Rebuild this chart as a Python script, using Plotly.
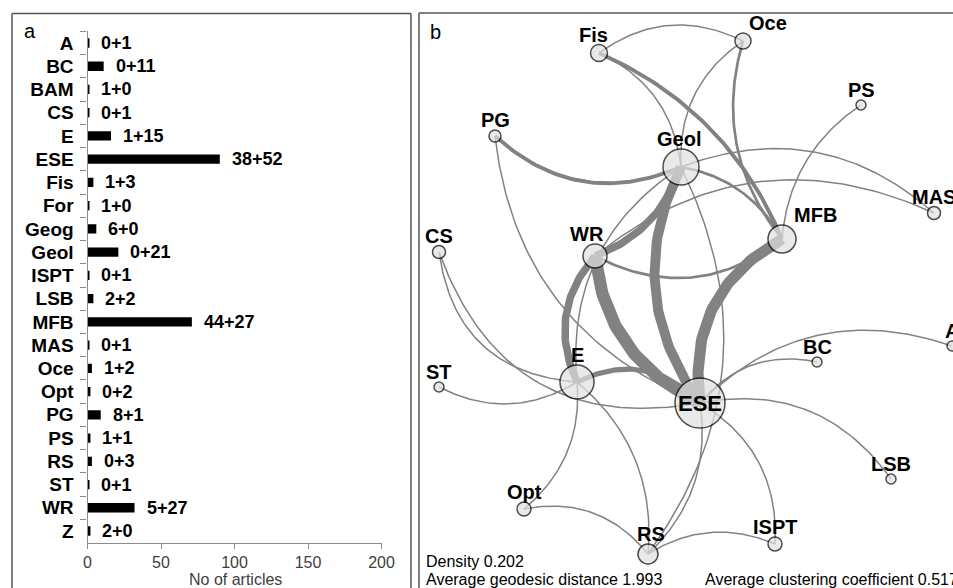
import numpy as np
import plotly.graph_objects as go

W, H = 953, 588

# ---------------- Panel a data ----------------
categories = ["A", "BC", "BAM", "CS", "E", "ESE", "Fis", "For", "Geog", "Geol", "ISPT",
              "LSB", "MFB", "MAS", "Oce", "Opt", "PG", "PS", "RS", "ST", "WR", "Z"]
count_first = [0, 0, 1, 0, 1, 38, 1, 1, 6, 0, 0, 2, 44, 0, 1, 0, 8, 1, 0, 0, 5, 2]
count_second = [1, 11, 0, 1, 15, 52, 3, 0, 0, 21, 1, 2, 27, 1, 2, 2, 1, 1, 3, 1, 27, 0]
x_ticks = [0, 50, 100, 150, 200]

# ---------------- Panel b data ----------------
node_names = ["Fis", "Oce", "PS", "PG", "Geol", "MAS", "MFB", "CS", "WR", "A", "BC",
              "ST", "E", "ESE", "LSB", "Opt", "ISPT", "RS"]
node_x = [599, 743, 861, 495, 681, 934, 782, 439, 595, 952, 817, 439, 577, 700, 891, 524, 775, 648]
node_y = [53, 41, 105, 136, 167, 213, 239, 252, 256, 346, 362, 387, 382, 403, 479, 509, 544, 554]
node_value = [17, 16, 10, 12, 36, 13, 28, 13, 24, 10, 10, 10, 34, 50, 10, 14, 14, 20]

edge_source = ["Fis", "Fis", "Fis", "Oce", "Oce", "PS", "PG", "PG", "Geol", "WR", "Geol",
               "Geol", "Geol", "Geol", "WR", "WR", "WR", "MFB", "E", "CS", "CS", "ST",
               "ESE", "ESE", "ESE", "ESE", "ESE", "RS", "Opt", "Opt", "E", "Geol"]
edge_target = ["Oce", "Geol", "MFB", "Geol", "MFB", "MFB", "Geol", "ESE", "MAS", "MAS", "MFB",
               "WR", "ESE", "E", "MFB", "E", "ESE", "ESE", "ESE", "E", "ESE", "E",
               "A", "BC", "LSB", "ISPT", "RS", "ISPT", "RS", "E", "RS", "RS"]
edge_weight = [1, 1, 3, 1, 2, 1, 3, 1, 1, 1, 2,
               6, 8, 1, 2, 6, 10, 9, 4, 1, 1, 1,
               1, 1, 1, 1, 1, 1, 1, 1, 1, 1]

stats_lines = ["Density 0.202", "Average geodesic distance 1.993",
               "Average clustering coefficient 0.517"]

# ---------------- styles ----------------
edge_bend = [-0.15, -0.14, -0.10, 0.14, 0.13, 0.12, 0.16, 0.15, -0.15, -0.155, -0.12,
             -0.12, 0.15, 0.15, 0.16, 0.16, 0.14, 0.17, -0.18, 0.2, 0.21, 0.14,
             -0.155, -0.15, -0.16, -0.15, -0.13, -0.13, -0.15, 0.13, -0.13, -0.15]
label_pos = {"Oce": "top right", "MFB": "top right", "ESE": "middle center"}
label_dx = {"Fis": -6, "WR": -8, "Geol": -2, "RS": 3}

FONT = "Liberation Sans, Arial, sans-serif"
EDGE_COL = "#828282"
AX_COL = "#8c8c8c"
FRAME = "#555555"

fig = go.Figure()

# ---------------- Panel a: bars ----------------
totals = [a + b for a, b in zip(count_first, count_second)]
fig.add_trace(go.Bar(
    x=totals, y=categories, orientation="h", width=0.4,
    marker=dict(color="black", line=dict(width=0)),
    xaxis="x", yaxis="y", hoverinfo="skip", showlegend=False))

annotations = []
for c, a, b, t in zip(categories, count_first, count_second, totals):
    annotations.append(dict(
        x=t, y=c, xref="x", yref="y", text=f"{a}+{b}", showarrow=False,
        xanchor="left", yanchor="middle", xshift=10,
        font=dict(family=FONT, size=18, color="black", weight="bold")))

# ---------------- Panel b: network ----------------
idx = {n: i for i, n in enumerate(node_names)}
tt = np.linspace(0, 1, 60)
for s, t, w, bend in zip(edge_source, edge_target, edge_weight, edge_bend):
    p0 = np.array([node_x[idx[s]], node_y[idx[s]]], dtype=float)
    p2 = np.array([node_x[idx[t]], node_y[idx[t]]], dtype=float)
    d = p2 - p0
    L = np.hypot(*d)
    nrm = np.array([-d[1], d[0]]) / L
    mid = (p0 + p2) / 2 + bend * L * nrm
    ctrl = 2 * mid - (p0 + p2) / 2
    pts = ((1 - tt)[:, None] ** 2) * p0 + (2 * tt * (1 - tt))[:, None] * ctrl + (tt[:, None] ** 2) * p2
    fig.add_trace(go.Scatter(
        x=pts[:, 0], y=pts[:, 1], mode="lines",
        line=dict(color=EDGE_COL, width=0.3 + 1.2 * w),
        xaxis="x2", yaxis="y2", hoverinfo="skip", showlegend=False))

positions = [label_pos.get(n, "top center") for n in node_names]
fig.add_trace(go.Scatter(
    x=node_x, y=node_y, mode="markers",
    marker=dict(size=node_value, color="#e1e1e1", line=dict(color="black", width=1.5)),
    xaxis="x2", yaxis="y2", hoverinfo="skip", showlegend=False, cliponaxis=False))

for n, x, y, v, p in zip(node_names, node_x, node_y, node_value, positions):
    if p == "middle center":
        annotations.append(dict(x=x, y=y, xref="x2", yref="y2", text=n, showarrow=False,
                                xanchor="center", yanchor="middle",
                                font=dict(family=FONT, size=22, color="black", weight="bold")))
    else:
        xa = "left" if p == "top right" else "center"
        annotations.append(dict(x=x, y=y, xref="x2", yref="y2", text=n, showarrow=False,
                                xanchor=xa, yanchor="bottom", yshift=v / 2 - 3,
                                xshift=((v / 2 - 4) if xa == "left" else 0) + label_dx.get(n, 0),
                                font=dict(family=FONT, size=20, color="black", weight="bold")))

# panel letters, axis title, stats
annotations += [
    dict(x=30 / W, y=1 - 31 / H, xref="paper", yref="paper", text="a", showarrow=False,
         xanchor="center", yanchor="middle", font=dict(family=FONT, size=20, color="black")),
    dict(x=435 / W, y=1 - 32 / H, xref="paper", yref="paper", text="b", showarrow=False,
         xanchor="center", yanchor="middle", font=dict(family=FONT, size=20, color="black")),
    dict(x=235 / W, y=1 - 579 / H, xref="paper", yref="paper", text="No of articles",
         showarrow=False, xanchor="center", yanchor="middle",
         font=dict(family=FONT, size=16, color="#404040")),
    dict(x=424 / W, y=1 - 561 / H, xref="paper", yref="paper", text=stats_lines[0],
         showarrow=False, xanchor="left", yanchor="middle",
         font=dict(family=FONT, size=16, color="black")),
    dict(x=424 / W, y=1 - 579 / H, xref="paper", yref="paper", text=stats_lines[1],
         showarrow=False, xanchor="left", yanchor="middle",
         font=dict(family=FONT, size=16, color="black")),
    dict(x=703 / W, y=1 - 579 / H, xref="paper", yref="paper", text=stats_lines[2],
         showarrow=False, xanchor="left", yanchor="middle",
         font=dict(family=FONT, size=16, color="black")),
]

# panel frames (bottom/right edges run off the picture)
ya_top, yb_top = 1 - 13.5 / H, 1 - 13 / H
shapes = [
    dict(type="line", xref="paper", yref="paper", x0=12 / W, x1=411 / W, y0=ya_top, y1=ya_top),
    dict(type="line", xref="paper", yref="paper", x0=12 / W, x1=12 / W, y0=0, y1=ya_top),
    dict(type="line", xref="paper", yref="paper", x0=411 / W, x1=411 / W, y0=0, y1=ya_top),
    dict(type="line", xref="paper", yref="paper", x0=419 / W, x1=1, y0=yb_top, y1=yb_top),
    dict(type="line", xref="paper", yref="paper", x0=419 / W, x1=419 / W, y0=0, y1=yb_top),
]
for sh in shapes:
    sh["line"] = dict(color=FRAME, width=1.5)
    sh["layer"] = "below"

fig.update_layout(
    template="none",
    width=W, height=H, autosize=False,
    margin=dict(l=0, r=0, t=0, b=0, pad=0, autoexpand=False),
    paper_bgcolor="white", plot_bgcolor="rgba(0,0,0,0)",
    showlegend=False, bargap=0.6,
    annotations=annotations, shapes=shapes,
    xaxis=dict(domain=[87.5 / W, 381.5 / W], range=[0, 200], tickvals=x_ticks,
               automargin=False,
               showline=True, linecolor=AX_COL, linewidth=1.2, ticks="outside",
               ticklen=5, tickcolor=AX_COL, showgrid=False, zeroline=False,
               tickfont=dict(family=FONT, size=16, color="#404040"), anchor="y"),
    yaxis=dict(domain=[1 - 543 / H, 1 - 31 / H], type="category", autorange="reversed",
               categoryorder="array", categoryarray=categories, automargin=False,
               showline=True, linecolor=AX_COL, linewidth=1.2, ticks="outside",
               tickson="boundaries", ticklen=6, tickcolor=AX_COL, showgrid=False,
               zeroline=False, ticklabelstandoff=9,
               tickfont=dict(family=FONT, size=19, color="black", weight="bold"), anchor="x"),
    xaxis2=dict(domain=[419 / W, 1], range=[419, 953], visible=False, anchor="y2",
                automargin=False),
    yaxis2=dict(domain=[0, 1], range=[588, 0], visible=False, anchor="x2",
                automargin=False),
)

fig.write_html(
    "out.html",
    config={"displayModeBar": False, "responsive": False},
    post_script=("document.documentElement.style.overflow='hidden';"
                 "document.body.style.margin='0px';document.body.style.overflow='hidden';"))
